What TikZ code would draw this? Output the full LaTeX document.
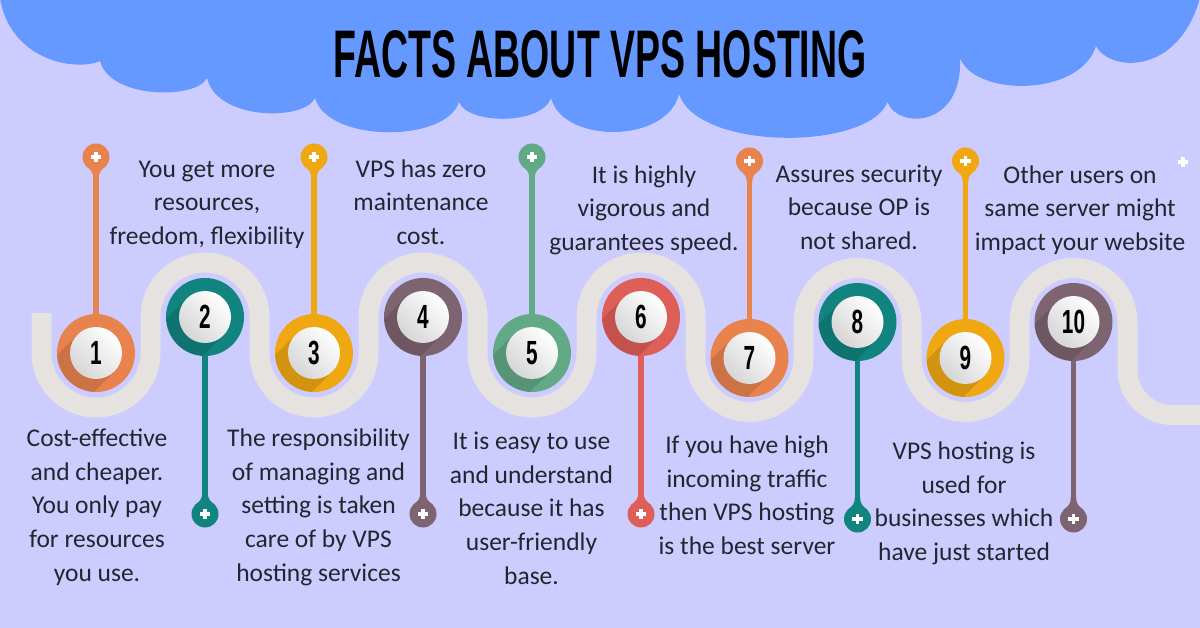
\documentclass[tikz,border=0pt]{standalone}
\usepackage{fontspec}
\usepackage{graphicx}
\usetikzlibrary{calc}
\setmainfont{Carlito}
\newfontfamily\numfont{Liberation Sans}
\definecolor{bgc}{HTML}{CCCCFF}
\definecolor{cloudc}{HTML}{6699FF}
\definecolor{bandc}{HTML}{E5E2E0}
\definecolor{orangec}{HTML}{E8834E}
\definecolor{tealc}{HTML}{12847F}
\definecolor{yellowc}{HTML}{F0A812}
\definecolor{mauvec}{HTML}{7E6470}
\definecolor{greenc}{HTML}{62A986}
\definecolor{redc}{HTML}{DE5E58}
\definecolor{txtc}{HTML}{252530}
\tikzset{
  outerball/.style={circle, minimum size=78pt, inner sep=0pt},
  innerball/.style={circle, minimum size=52pt, inner sep=0pt, top color=white, bottom color=black!16, shading angle=-45},
  numtxt/.style={font=\numfont\bfseries\fontsize{33.5}{33.5}\selectfont, text=black},
  band/.style={line width=20pt, draw=bandc},
  pinline/.style={line width=5.3pt},
  fact/.style={font=\fontsize{25.5}{33.8}\selectfont, text=txtc, align=center, inner sep=0pt, anchor=north},
  titletxt/.style={inner sep=0pt, anchor=base, text=black},
  pintop/.pic={
    \fill (0,0) circle (13.5);
    \fill (10.3,8.7) .. controls (5,13) and (2.65,15) .. (2.65,22) -- (-2.65,22) .. controls (-2.65,15) and (-5,13) .. (-10.3,8.7) -- cycle;
    \fill[white] (-5.3,-1.7) rectangle (5.3,1.7);
    \fill[white] (-1.7,-5.3) rectangle (1.7,5.3);
  },
  pinbot/.pic={
    \fill (0,0) circle (13.5);
    \fill (10.3,-8.7) .. controls (5,-13) and (2.65,-15) .. (2.65,-22) -- (-2.65,-22) .. controls (-2.65,-15) and (-5,-13) .. (-10.3,-8.7) -- cycle;
    \fill[white] (-5.3,-1.7) rectangle (5.3,1.7);
    \fill[white] (-1.7,-5.3) rectangle (1.7,5.3);
  },
}
\newcommand\myball[5]{%
  \node[outerball, fill=#4] (c#1) at (#2,#3) {};
  \begin{scope}[shift={(#2,#3)}]
    \clip (0,0) circle (39);
    \fill[black, opacity=0.12] (18.4,18.4) -- (-41.6,78.4) -- (-78.4,41.6) -- (-18.4,-18.4) -- cycle;
  \end{scope}
  \node[innerball] (n#1) at (#2,#3) {};
  \node[numtxt] (d#1) at (#2,#3) {\scalebox{0.62}[1]{#5}};
}
\begin{document}
\begin{tikzpicture}[x=1pt,y=-1pt]
\useasboundingbox (0,0) rectangle (1200,628);
\clip (0,0) rectangle (1200,628);
\fill[bgc] (0,0) rectangle (1200,628);
% cloud
\fill[cloudc] (0,-2) .. controls (10,60) and (75,72) .. (100,61)
  .. controls (110,99.5) and (197,99.5) .. (207,78)
  .. controls (217,121) and (305,121) .. (315,98)
  .. controls (328,143) and (446,143) .. (459,102)
  .. controls (468,125) and (542,125) .. (551,98)
  .. controls (563,144) and (667,144) .. (679,94)
  .. controls (698,151) and (868,151) .. (887.5,102)
  .. controls (897,129) and (963,129) .. (960,58)
  .. controls (975,97) and (1080,97) .. (1096,46)
  .. controls (1110,72) and (1178,76) .. (1200,-2)
  -- cycle;
\node[titletxt] (title) at (600,78) {\resizebox{533pt}{47pt}{\numfont\bfseries FACTS ABOUT VPS HOSTING}};
% winding band
\draw[band] (41.5,313) -- (41.5,353)
  arc[start angle=180,end angle=0,radius=54.5] -- ++(0,-36)
  arc[start angle=180,end angle=360,radius=54.5] -- ++(0,36)
  arc[start angle=180,end angle=0,radius=54.5] -- ++(0,-36)
  arc[start angle=180,end angle=360,radius=54.5] -- ++(0,36)
  arc[start angle=180,end angle=0,radius=54.5] -- ++(0,-36)
  arc[start angle=180,end angle=360,radius=54.5] -- ++(0,41)
  arc[start angle=180,end angle=0,radius=54] -- ++(0,-36)
  arc[start angle=180,end angle=360,radius=54] -- ++(0,36)
  arc[start angle=180,end angle=0,radius=54] -- ++(0,-36)
  arc[start angle=180,end angle=360,radius=54] -- ++(0,48)
  arc[start angle=180,end angle=90,radius=45] -- ++(40,0);
% balls
\myball{1}{96}{353}{orangec}{1}
\myball{2}{205}{317}{tealc}{2}
\myball{3}{314}{353}{yellowc}{3}
\myball{4}{423}{317}{mauvec}{4}
\myball{5}{532}{353}{greenc}{5}
\myball{6}{641}{317}{redc}{6}
\myball{7}{749.5}{358}{orangec}{7}
\myball{8}{857.5}{322}{tealc}{8}
\myball{9}{965.5}{358}{yellowc}{9}
\myball{10}{1073.5}{322}{mauvec}{10}
% pin coordinates
\coordinate (p1) at (96,157);
\coordinate (p2) at (205,514);
\coordinate (p3) at (314,157);
\coordinate (p4) at (423,514);
\coordinate (p5) at (532,157);
\coordinate (p6) at (641,514);
\coordinate (p7) at (749.5,161);
\coordinate (p8) at (857.5,519);
\coordinate (p9) at (965.5,161);
\coordinate (p10) at (1073.5,519);
\coordinate (px) at (1183,162);
% pin lines
\draw[pinline, orangec] (p1) -- (c1.north);
\draw[pinline, tealc] (c2.south) -- (p2);
\draw[pinline, yellowc] (p3) -- (c3.north);
\draw[pinline, mauvec] (c4.south) -- (p4);
\draw[pinline, greenc] (p5) -- (c5.north);
\draw[pinline, redc] (c6.south) -- (p6);
\draw[pinline, orangec] (p7) -- (c7.north);
\draw[pinline, tealc] (c8.south) -- (p8);
\draw[pinline, yellowc] (p9) -- (c9.north);
\draw[pinline, mauvec] (c10.south) -- (p10);
% pin heads
\pic[color=orangec] at (p1) {pintop};
\pic[color=tealc] at (p2) {pinbot};
\pic[color=yellowc] at (p3) {pintop};
\pic[color=mauvec] at (p4) {pinbot};
\pic[color=greenc] at (p5) {pintop};
\pic[color=redc] at (p6) {pinbot};
\pic[color=orangec] at (p7) {pintop};
\pic[color=tealc] at (p8) {pinbot};
\pic[color=yellowc] at (p9) {pintop};
\pic[color=mauvec] at (p10) {pinbot};
\fill[white] ($(px)+(-5.3,-1.7)$) rectangle ($(px)+(5.3,1.7)$);
\fill[white] ($(px)+(-1.7,-5.3)$) rectangle ($(px)+(1.7,5.3)$);
% texts
\node[fact] (t2) at (207,156) {\rule{0pt}{21pt}You get more\\resources,\\freedom, flexibility};
\node[fact] (t4) at (421,156) {\rule{0pt}{21pt}VPS has zero\\maintenance\\cost.};
\node[fact] (t6) at (644,162) {\rule{0pt}{21pt}It is highly\\vigorous and\\guarantees speed.};
\node[fact] (t8) at (859,161) {\rule{0pt}{21pt}Assures security\\because OP is\\not shared.};
\node[fact] (t10) at (1080,162) {\rule{0pt}{21pt}Other users on\\same server might\\impact your website};
\node[fact] (t1) at (97,425) {\rule{0pt}{21pt}Cost-effective\\and cheaper.\\You only pay\\for resources\\you use.};
\node[fact] (t3) at (318.5,425) {\rule{0pt}{21pt}The responsibility\\of managing and\\setting is taken\\care of by VPS\\hosting services};
\node[fact] (t5) at (531.5,428) {\rule{0pt}{21pt}It is easy to use\\and understand\\because it has\\user-friendly\\base.};
\node[fact] (t7) at (747,432) {\rule{0pt}{21pt}If you have high\\incoming traffic\\then VPS hosting\\is the best server};
\node[fact] (t9) at (964,438) {\rule{0pt}{21pt}VPS hosting is\\used for\\businesses which\\have just started};
\end{tikzpicture}
\end{document}
